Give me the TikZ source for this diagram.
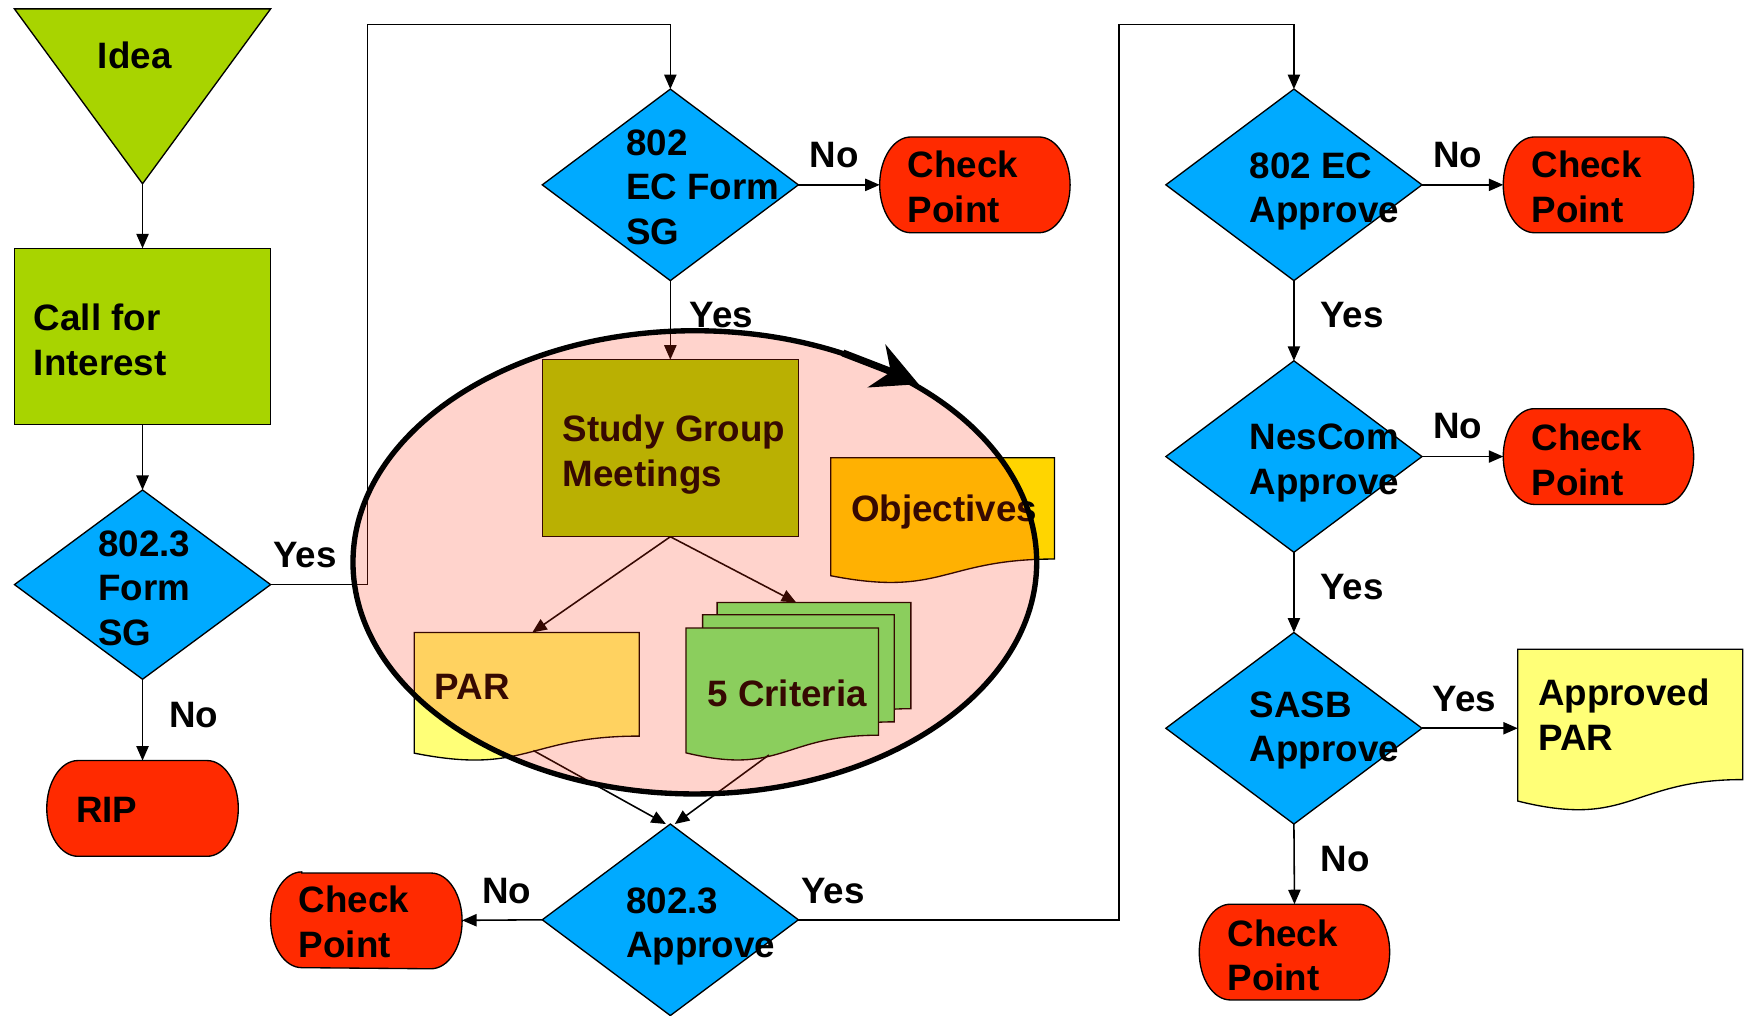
\documentclass[tikz,border=0pt]{standalone}
\usepackage{fontspec}
\setmainfont{Liberation Sans}
\usetikzlibrary{shapes.geometric,arrows.meta,calc,fit}
\definecolor{lgreen}{HTML}{A8D400}
\definecolor{dblue}{HTML}{00AAFF}
\definecolor{cpred}{HTML}{FF2A00}
\definecolor{docyel}{HTML}{FFFF77}
\definecolor{objgold}{HTML}{FFD500}
\definecolor{critgreen}{HTML}{6CFA74}
\definecolor{overlayred}{RGB}{255,45,12}
\newcommand\termshape[1]{%
  \path[shp,fill=cpred] ($(#1.north west)+(28,0)$) -- ($(#1.north east)+(-28,0)$)
    arc[start angle=90,end angle=-90,x radius=14pt,y radius=21.5pt]
    -- ($(#1.south west)+(28,0)$)
    arc[start angle=270,end angle=90,x radius=14pt,y radius=21.5pt] -- cycle;}
% x0, y0, x1, H, fill
\newcommand\docshape[5]{%
  \path[shp,fill=#5] (#1,#2) -- (#3,#2) -- (#3,{#2+0.802*#4})
    .. controls ({(#1+#3)/2},{#2+0.802*#4}) and ({(#1+#3)/2},{#2+1.1075*#4}) ..
    (#1,{#2+0.934*#4}) -- cycle;}
\begin{document}
\begin{tikzpicture}[x=0.5pt,y=-0.5pt,
  font=\fontsize{16.5}{20}\selectfont\bfseries,
  arr/.style={draw=black,line width=0.7pt,-{Triangle[length=6.5pt,width=5.5pt]}},
  dia/.style={diamond,draw=black,line width=0.6pt,fill=dblue,inner sep=0pt,outer sep=0pt,minimum width=115pt,minimum height=86pt},
  box/.style={rectangle,draw=black,line width=0.6pt,fill=lgreen,inner sep=0pt,outer sep=0pt},
  hold/.style={rectangle,inner sep=0pt,outer sep=0pt},
  shp/.style={draw=black,line width=0.6pt},
  txt/.style={anchor=west,align=left,inner sep=0pt},
  lbl/.style={inner sep=0pt},
]
\useasboundingbox (0,0) rectangle (1568,912);

% ---------- left column ----------
\path[shp,fill=lgreen] (13,8) -- (243,8) -- (128,165) -- cycle;
\coordinate (ideatip) at (128,165);
\node[lbl] (tidea) at (121,50) {Idea};

\node[box,fit={(13,223)(243,381)}] (call) {};
\node[txt] (tcall) at (30,305) {Call for\\Interest};

\node[dia,minimum height=85pt] (form3) at (128,525) {};
\node[txt] (tform3) at (88,528) {802.3\\Form\\SG};

\node[hold,fit={(42,683)(214,769)}] (rip) {};
\termshape{rip}
\node[txt] (trip) at (68,727) {RIP};

% ---------- middle column ----------
\node[dia] (ecform) at (602,166) {};
\node[txt] (tecform) at (562,168) {802\\EC Form\\SG};

\node[hold,fit={(790,123)(961,209)}] (cp1) {};
\termshape{cp1}
\node[txt] (tcp1) at (815,168) {Check\\Point};

\node[box,fit={(487,323)(717,482)}] (sg) {};
\node[txt] (tsg) at (505,408) {Study Group\\Meetings};

\docshape{746}{411}{947}{113.5}{objgold}
\node[hold,fit={(746,411)(947,517)}] (obj) {};
\node[txt] (tobj) at (764,460) {Objectives};

\docshape{372}{568}{574}{116}{docyel}
\node[hold,fit={(372,568)(574,676)}] (par) {};
\node[txt] (tpar) at (390,617) {PAR};

\docshape{644}{541}{818}{119}{critgreen}
\node[hold,fit={(644,541)(818,652)}] (crit3) {};
\docshape{631}{552}{803}{120}{critgreen}
\node[hold,fit={(631,552)(803,664)}] (crit2) {};
\docshape{616}{564}{789}{120}{critgreen}
\node[hold,fit={(616,564)(789,676)}] (crit1) {};
\node[txt] (tcrit) at (635,623) {5 Criteria};

\node[dia] (appr3) at (602,826) {};
\node[txt] (tappr3) at (562,832) {802.3\\Approve};

\node[hold,fit={(243,784)(415,869)}] (cpbl) {};
\termshape{cpbl}
\node[txt] (tcpbl) at (268,828) {Check\\Point};

% ---------- right column ----------
\node[dia] (ecappr) at (1162,166) {};
\node[txt] (tecappr) at (1122,172) {802 EC\\Approve};

\node[hold,fit={(1350,123)(1521,209)}] (cp2) {};
\termshape{cp2}
\node[txt] (tcp2) at (1375,168) {Check\\Point};

\node[dia] (nescom) at (1162,410) {};
\node[txt] (tnescom) at (1122,416) {NesCom\\Approve};

\node[hold,fit={(1350,367)(1521,453)}] (cp3) {};
\termshape{cp3}
\node[txt] (tcp3) at (1375,413) {Check\\Point};

\node[dia] (sasb) at (1162,654) {};
\node[txt] (tsasb) at (1122,656) {SASB\\Approve};

\docshape{1363}{583}{1565}{146}{docyel}
\node[hold,fit={(1363,583)(1565,719)}] (apar) {};
\node[txt] (tapar) at (1381,642) {Approved\\PAR};

\node[hold,fit={(1077,812)(1248,898)}] (cp4) {};
\termshape{cp4}
\node[txt] (tcp4) at (1102,858) {Check\\Point};

% ---------- connectors ----------
\coordinate (c1) at (330,22);
\coordinate (c2) at (1005,22);
\draw[arr] (ideatip) -- (call.north);
\draw[arr] (call.south) -- (form3.north);
\draw[arr] (form3.south) -- (rip.north);
\draw[arr] (form3.east) -| (c1) -| (ecform.north);
\draw[arr] (ecform.east) -- (cp1.west);
\draw[arr] (ecform.south) -- (sg.north);
\draw[arr] (sg.south) -- ($(par.north)+(5,0)$);
\draw[arr] (sg.south) -- ($(crit3.north)+(-16,0)$);
\draw[arr] ($(par.south)+(6,-2)$) -- ($(appr3.north)+(-4,0)$);
\draw[arr] ($(crit1.south)+(-12,2)$) -- ($(appr3.north)+(4,0)$);
\draw[arr] (appr3.west) -- (cpbl.east);
\draw[arr] (appr3.east) -| (c2) -| (ecappr.north);
\draw[arr] (ecappr.east) -- (cp2.west);
\draw[arr] (ecappr.south) -- (nescom.north);
\draw[arr] (nescom.east) -- (cp3.west);
\draw[arr] (nescom.south) -- (sasb.north);
\draw[arr] (sasb.east) -- (apar.west |- sasb.east);
\draw[arr] (sasb.south) -- (cp4.north);

% ---------- labels ----------
\node[lbl] (l1) at (274,498) {Yes};
\node[lbl] (l2) at (174,642) {No};
\node[lbl] (l3) at (749,139) {No};
\node[lbl] (l4) at (648,283) {Yes};
\node[lbl] (l5) at (455,800) {No};
\node[lbl] (l6) at (748,800) {Yes};
\node[lbl] (l7) at (1309,139) {No};
\node[lbl] (l8) at (1214,283) {Yes};
\node[lbl] (l9) at (1309,383) {No};
\node[lbl] (l10) at (1214,527) {Yes};
\node[lbl] (l11) at (1315,628) {Yes};
\node[lbl] (l12) at (1208,771) {No};

% ---------- ellipse overlay ----------
\path[fill=overlayred,fill opacity=0.21] (624,505) ellipse [x radius=153.5pt,y radius=104pt];
\draw[line width=2.4pt] (624,505) ellipse [x radius=153.5pt,y radius=104pt];
\draw[line width=3.2pt] (757,317) -- (801,334);
\fill (825,345) -- (795,309) -- (800,334) -- (779,348) -- cycle;
\end{tikzpicture}
\end{document}
